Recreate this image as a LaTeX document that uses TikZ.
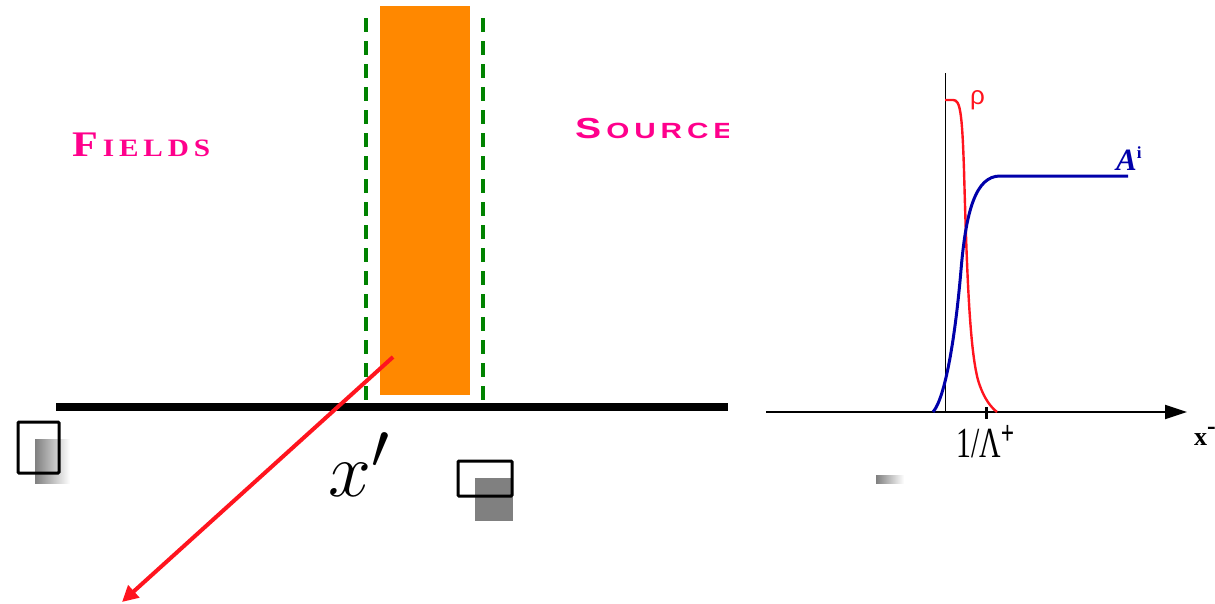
\documentclass[tikz,border=0pt]{standalone}
\usepackage{fontspec}
\setmainfont{Liberation Serif}
\newfontfamily\sansf{Liberation Sans}
\usetikzlibrary{arrows.meta}
\definecolor{srcorange}{RGB}{255,136,0}
\definecolor{dgreen}{RGB}{0,130,0}
\definecolor{fpink}{RGB}{255,0,140}
\definecolor{nblue}{RGB}{0,0,170}
\definecolor{rred}{RGB}{255,20,30}
\begin{document}
\begin{tikzpicture}[x=1pt,y=-1pt,
  lbl/.style={inner sep=0pt, anchor=base west, text=fpink},
  dashline/.style={draw=dgreen, line width=4pt, dash pattern=on 14pt off 9pt},
  smallbox/.style={draw=black, line width=3pt, rounded corners=1pt},
  fadebox/.style={left color=gray, right color=white, draw=none},
  axisline/.style={draw=black, line width=2pt}]
\useasboundingbox (0,0) rectangle (1215,603);
% orange source slab
\fill[srcorange] (380,6) rectangle (470,395);
\coordinate (g1t) at (366,18); \coordinate (g1b) at (366,408);
\coordinate (g2t) at (483,18); \coordinate (g2b) at (483,408);
\draw[dashline] (g1t) -- (g1b);
\draw[dashline] (g2t) -- (g2b);
% baseline
\coordinate (bl) at (56,407); \coordinate (br) at (728,407);
\draw[line width=8pt] (bl) -- (br);
% red arrow
\coordinate (ra) at (393,357); \coordinate (rb) at (122,602);
\draw[rred, line width=4pt, -{Triangle[length=16pt,width=16pt]}] (ra) -- (rb);
% labels
\node[lbl] (fields) at (72,156) {\bfseries\scalebox{1.17}[1]{\fontsize{36}{36}\selectfont F\fontsize{25}{25}\selectfont\,I\,E\,L\,D\,S}};
\begin{scope}
\clip (560,90) rectangle (728,160);
\node[lbl] (source) at (575,138) {\bfseries\sansf\scalebox{1.35}[1]{\fontsize{29}{29}\selectfont S\fontsize{22}{22}\selectfont\,O\,U\,R\,C\,E}};
\end{scope}
\node[inner sep=0pt, anchor=base west] (xp) at (328,496) {\scalebox{3.1}{\Huge$x'$}};
% small boxes
\fill[fadebox] (35,439) rectangle (70,483);
\draw[smallbox] (18,422) rectangle (59,473);
\fill[gray] (475,478) rectangle (513,521);
\draw[smallbox] (458,461) rectangle (512,496);
\fill[fadebox] (876,475) rectangle (904,483);
% right plot axes
\coordinate (vt) at (945,73); \coordinate (vb) at (945,412);
\draw[black, line width=1pt] (vt) -- (vb);
\coordinate (hl) at (766,412); \coordinate (hr) at (1187,412);
\draw[axisline, -{Triangle[length=22pt,width=14pt]}] (hl) -- (hr);
\coordinate (tk1) at (986,407); \coordinate (tk2) at (986,419);
\draw[line width=3pt] (tk1) -- (tk2);
% curves
\draw[rred, line width=2.4pt] (945,100) -- (953,100) .. controls (960,100) and (962,110) .. (964,170)
  .. controls (967,280) and (970,350) .. (978,380) .. controls (984,400) and (992,408) .. (997,412);
\draw[nblue, line width=3pt] (933,412) .. controls (945,398) and (955,340) .. (961,270)
  .. controls (966,210) and (976,176) .. (1000,176) -- (1128,176);
% plot labels
\node[inner sep=0pt, anchor=base west, text=rred] (rho) at (970,104) {\sansf\fontsize{26}{26}\selectfont ρ};
\node[inner sep=0pt, anchor=base west, text=nblue] (ai) at (1116,170) {\fontsize{31}{31}\selectfont\bfseries\itshape A\raisebox{12pt}{\fontsize{17}{17}\selectfont\upshape i}};
\node[inner sep=0pt, anchor=base west] (lam) at (956,457) {\scalebox{0.9}[1.3]{\fontsize{33}{33}\selectfont 1/Λ\raisebox{10pt}{\fontsize{26}{26}\selectfont\bfseries +}}};
\node[inner sep=0pt, anchor=base west] (xm) at (1194,445) {\fontsize{26}{26}\selectfont\bfseries x\raisebox{11pt}{-}};
\end{tikzpicture}
\end{document}
